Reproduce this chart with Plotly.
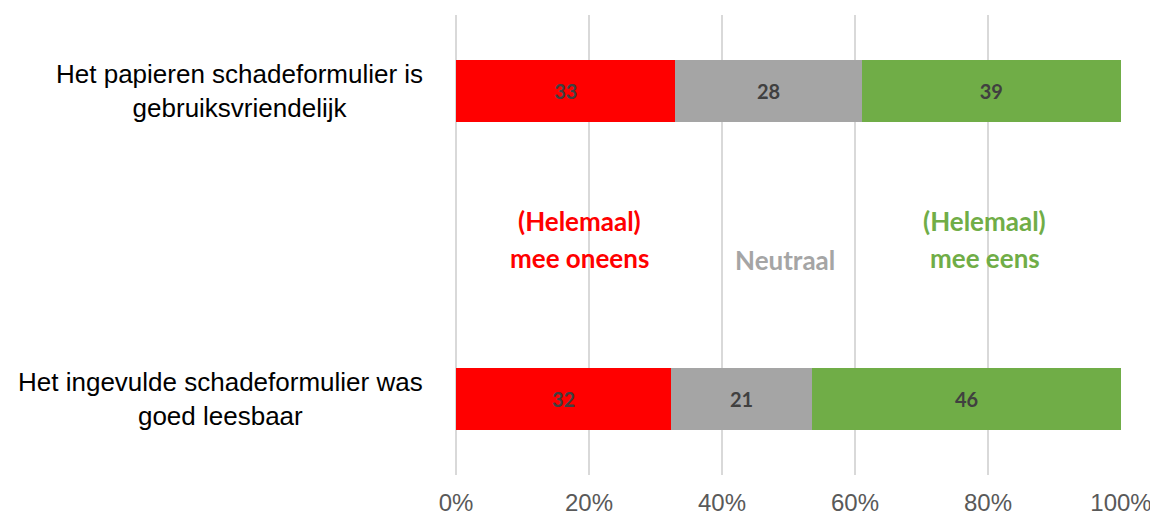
import plotly.graph_objects as go

FONT_FAMILY = "Liberation Sans, Arial"
LABEL_FONT = "Lato, Open Sans"

statements = ["Het papieren schadeformulier is<br>gebruiksvriendelijk",
              "Het ingevulde schadeformulier was<br>goed leesbaar"]
categories = ["papieren", "ingevuld"]
oneens = [33, 32]
neutraal = [28, 21]
eens = [39, 46]

series = [("(Helemaal) mee oneens", oneens, "#FF0000"),
          ("Neutraal", neutraal, "#A5A5A5"),
          ("(Helemaal) mee eens", eens, "#70AD47")]

fig = go.Figure()
for name, vals, color in series:
    fig.add_trace(go.Bar(
        y=categories, x=vals, name=name, orientation="h",
        marker=dict(color=color, line=dict(width=0)),
        text=[str(v) for v in vals], textposition="inside",
        insidetextanchor="middle", textangle=0,
        textfont=dict(family=LABEL_FONT, size=20, color="#404040", weight="bold"),
        hoverinfo="skip",
    ))

# category labels, centred lines like the original
for cat, label in zip(categories, statements):
    fig.add_annotation(x=-0.047, xref="paper", y=cat, yref="y", text=label,
                       showarrow=False, xanchor="right", yanchor="middle", align="center",
                       font=dict(family=FONT_FAMILY, size=26, color="black"))

# overlay legend labels
overlay = [("(Helemaal)", 0.186, 0.553, "#FF0000"),
           ("mee oneens", 0.186, 0.471, "#FF0000"),
           ("Neutraal", 0.495, 0.467, "#A5A5A5"),
           ("(Helemaal)", 0.795, 0.553, "#70AD47"),
           ("mee eens", 0.795, 0.471, "#70AD47")]
for txt, px, py, col in overlay:
    fig.add_annotation(x=px, xref="paper", y=py, yref="paper", text=txt,
                       showarrow=False, xanchor="center", yanchor="middle",
                       font=dict(family=LABEL_FONT, size=26, color=col, weight="bold"))

# page body adds an 8px margin, so size/margins are reduced by that
fig.update_layout(
    barmode="stack", barnorm="percent", bargap=0.8,
    showlegend=False,
    width=1150, height=512,
    paper_bgcolor="white", plot_bgcolor="white",
    margin=dict(l=448, r=37, t=7, b=45, pad=0, autoexpand=False),
    font=dict(family=FONT_FAMILY, size=20, color="#595959"),
)
fig.update_xaxes(range=[0, 100], dtick=20, ticksuffix="%", automargin=False,
                 showgrid=True, gridcolor="#D9D9D9", gridwidth=1.5,
                 zeroline=True, zerolinecolor="#D9D9D9", zerolinewidth=1.5,
                 showline=False,
                 ticks="outside", ticklen=6, tickcolor="rgba(0,0,0,0)",
                 tickfont=dict(family=FONT_FAMILY, size=24, color="#595959"))
fig.update_yaxes(range=[1.245, -0.245], showticklabels=False, showgrid=False,
                 zeroline=False, showline=False, automargin=False)

fig.write_html("out.html")
